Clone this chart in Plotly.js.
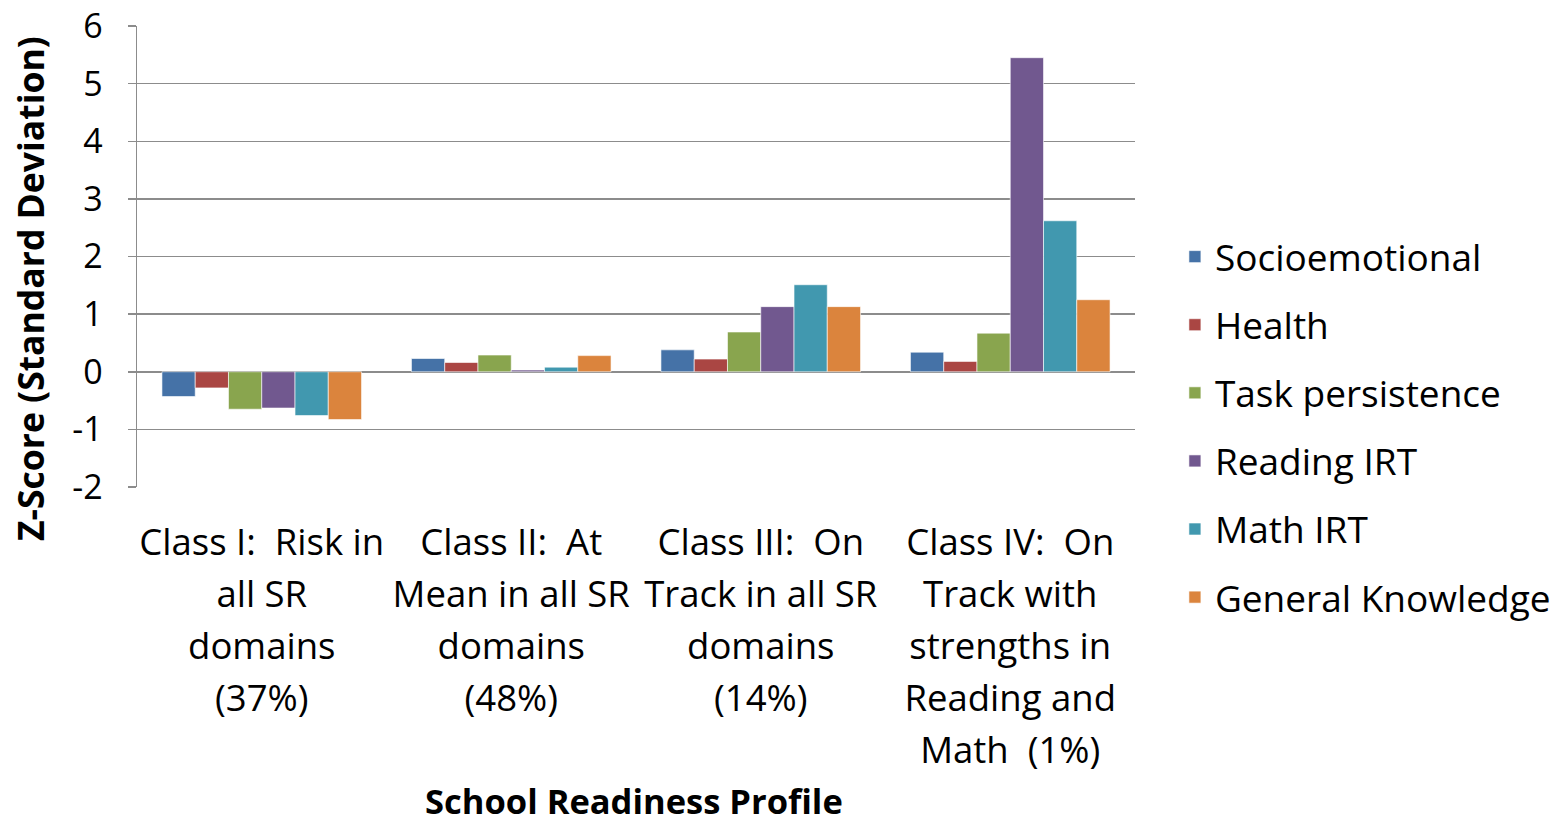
<!DOCTYPE html>
<html><head><meta charset="utf-8">
<script src="https://cdn.plot.ly/plotly-3.0.1.min.js"></script>
<style>html,body{margin:0;padding:0;background:#fff}#chart{width:1558px;height:826px}</style>
</head><body><div id="chart"></div>
<script>
const categoryLines = [
  ["Class I:  Risk in","all SR","domains","(37%)"],
  ["Class II:  At","Mean in all SR","domains","(48%)"],
  ["Class III:  On","Track in all SR","domains","(14%)"],
  ["Class IV:  On","Track with","strengths in","Reading and","Math  (1%)"]
];
const seriesNames = ["Socioemotional","Health","Task persistence","Reading IRT","Math IRT","General Knowledge"];
const socioemotional   = [-0.43, 0.23, 0.38, 0.34];
const health           = [-0.28, 0.16, 0.22, 0.18];
const taskPersistence  = [-0.65, 0.29, 0.69, 0.67];
const readingIRT       = [-0.63, 0.03, 1.13, 5.45];
const mathIRT          = [-0.76, 0.08, 1.51, 2.62];
const generalKnowledge = [-0.83, 0.28, 1.13, 1.25];
const seriesValues = [socioemotional, health, taskPersistence, readingIRT, mathIRT, generalKnowledge];
const colors = ["#4572A7","#AA4643","#89A54E","#71588F","#4198AF","#DB843D"];
const yTicks = [-2,-1,0,1,2,3,4,5,6];
const xTitle = "School Readiness Profile";
const yTitle = "Z-Score (Standard Deviation)";

const font = "'Open Sans', sans-serif";
const categories = categoryLines.map(ls => ls.map(l => '<span style="font-size:36.5px">'+l+'</span>').join("<br>"));
const traces = seriesNames.map((n,i)=>({
  type:"bar", name:n, x:categories, y:seriesValues[i],
  legendgroup:"g"+i,
  marker:{color:colors[i], line:{color:"rgba(255,255,255,0.6)", width:1}}
}));
const layout = {
  width:1558, height:826,
  margin:{l:137, r:423, t:26, b:339, autoexpand:false},
  paper_bgcolor:"#fff", plot_bgcolor:"#fff",
  barmode:"group", bargap:0.2, bargroupgap:0,
  font:{family:font, color:"#000", size:33},
  xaxis:{
    type:"category", showgrid:false, zeroline:false, showline:false, ticks:"",
    tickfont:{family:font, size:40, color:"#000"}, ticklabelstandoff:27,
    automargin:false
  },
  yaxis:{
    range:[-2,6], tickvals:yTicks, ticktext:yTicks.map(String),
    showgrid:true, gridcolor:"#8c8c8c", gridwidth:1.5,
    zeroline:true, zerolinecolor:"#8c8c8c", zerolinewidth:1.5,
    showline:true, linecolor:"#8c8c8c", linewidth:1.5,
    ticks:"outside", ticklen:8, tickcolor:"#8c8c8c", tickwidth:1.5,
    tickfont:{family:font, size:34, color:"#000"}, ticklabelstandoff:18,
    automargin:false
  },
  annotations:[
    {text:"<b>"+xTitle+"</b>", xref:"paper", yref:"paper", x:0.498, y:-0.681, xanchor:"center", yanchor:"middle",
     showarrow:false, borderpad:0, font:{family:font, size:34.5, color:"#000"}},
    {text:"<b>"+yTitle+"</b>", xref:"paper", yref:"paper", x:-0.107, y:0.43, xanchor:"center", yanchor:"middle",
     textangle:-90, showarrow:false, font:{family:font, size:35.5, color:"#000"}}
  ],
  legend:{x:1.04, xanchor:"left", y:0.13, yanchor:"middle", traceorder:"grouped",
    tracegroupgap:17, font:{family:font, size:37, color:"#000"}, bgcolor:"rgba(0,0,0,0)"},
  showlegend:true
};
Plotly.newPlot("chart", traces, layout, {displayModeBar:false, staticPlot:true});
</script></body></html>
